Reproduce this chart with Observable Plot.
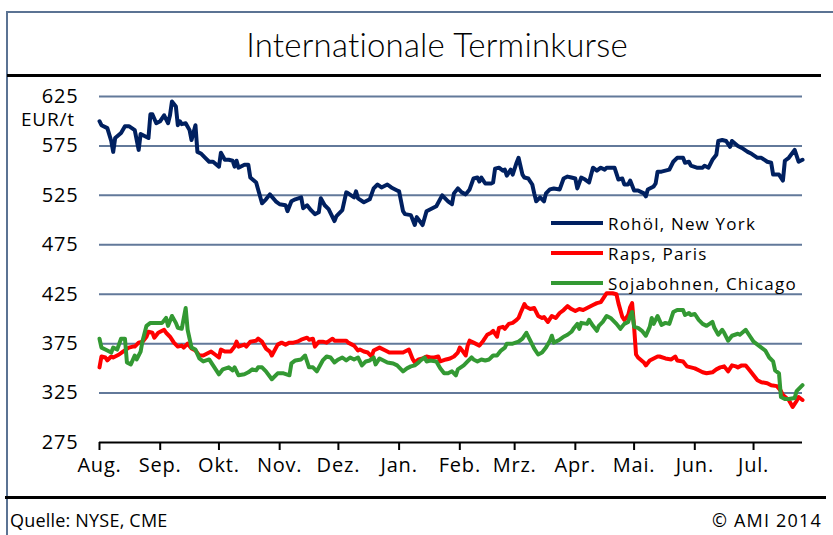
<!DOCTYPE html>
<html><head><meta charset="utf-8">
<script src="https://cdn.jsdelivr.net/npm/d3@7"></script>
<script src="https://cdn.jsdelivr.net/npm/@observablehq/plot@0.6"></script>
<style>
body{margin:0;background:#fff;}
#wrap{position:relative;width:833px;height:535px;overflow:hidden;background:#fff;font-family:"Open Sans",sans-serif;color:#000;}
.abs{position:absolute;}
#title{left:437px;top:24px;transform:translateX(-50%);font-family:"Lato",sans-serif;font-weight:300;font-size:33px;white-space:nowrap;letter-spacing:0.2px;}
#chart{left:0;top:80px;}
.leg{position:absolute;left:551px;height:20px;display:flex;align-items:center;font-size:17px;letter-spacing:1.2px;white-space:nowrap;}
.leg span.k{display:inline-block;width:52px;height:4px;margin-right:5px;}
.foot{font-size:18px;top:508px;font-family:"Open Sans",sans-serif;letter-spacing:0.2px;}
</style></head><body>
<div id="wrap">
  <div class="abs" style="left:6px;top:11px;width:2px;height:524px;background:#5b7393"></div>
  <div class="abs" style="left:6px;top:11px;width:827px;height:2px;background:#5b7393"></div>
  <div id="title" class="abs">Internationale Terminkurse</div>
  <div class="abs" style="left:7px;top:74px;width:814px;height:3px;background:#000"></div>
  <div id="chart" class="abs"></div>
  <div id="unit" class="abs" style="left:21px;top:110px;font-size:19px;line-height:19px;letter-spacing:0.8px;">EUR/t</div>
  <div id="legend"></div>
  <div class="abs" style="left:5px;top:496px;width:821px;height:3px;background:#000"></div>
  <div class="abs foot" style="left:10px;">Quelle: NYSE, CME</div>
  <div class="abs foot" style="right:11px;letter-spacing:1.2px;">© AMI 2014</div>
</div>
<script>
const monthLabels = ["Aug.","Sep.","Okt.","Nov.","Dez.","Jan.","Feb.","Mrz.","Apr.","Mai.","Jun.","Jul."];
const monthStarts = ["2013-08-01","2013-09-01","2013-10-01","2013-11-01","2013-12-01","2014-01-01","2014-02-01","2014-03-01","2014-04-01","2014-05-01","2014-06-01","2014-07-01"];
const xDomain = ["2013-08-01","2014-07-26"];
const yTicks = [275,325,375,425,475,525,575,625];
const seriesNames = ["Rohöl, New York","Raps, Paris","Sojabohnen, Chicago"];

const rohoel = [
["2013-08-01",600],["2013-08-02",596],["2013-08-05",593],["2013-08-07",580],["2013-08-08",569],["2013-08-09",583],["2013-08-12",588],["2013-08-14",595],["2013-08-16",595],["2013-08-19",591],["2013-08-21",571],["2013-08-22",587],["2013-08-24",585],["2013-08-26",583],["2013-08-27",607],["2013-08-28",607],["2013-08-30",598],
["2013-09-01",600],["2013-09-03",606],["2013-09-05",598],["2013-09-06",606],["2013-09-07",620],["2013-09-09",615],["2013-09-10",596],["2013-09-11",600],["2013-09-12",597],["2013-09-14",598],["2013-09-16",591],["2013-09-17",581],["2013-09-19",596],["2013-09-20",569],["2013-09-22",567],["2013-09-24",563],["2013-09-26",559],["2013-09-28",559],
["2013-10-01",554],["2013-10-02",568],["2013-10-04",561],["2013-10-06",561],["2013-10-08",560],["2013-10-09",554],["2013-10-10",560],["2013-10-11",553],["2013-10-14",556],["2013-10-16",556],["2013-10-17",543],["2013-10-20",538],["2013-10-21",531],["2013-10-23",517],["2013-10-25",521],["2013-10-27",526],["2013-10-30",519],
["2013-11-01",516],["2013-11-04",515],["2013-11-05",509],["2013-11-07",519],["2013-11-09",521],["2013-11-12",523],["2013-11-13",512],["2013-11-15",515],["2013-11-17",510],["2013-11-19",506],["2013-11-21",508],["2013-11-22",522],["2013-11-24",515],["2013-11-26",511],["2013-11-27",507],["2013-11-29",499],["2013-11-30",504],
["2013-12-03",510],["2013-12-05",528],["2013-12-06",527],["2013-12-09",523],["2013-12-10",529],["2013-12-11",522],["2013-12-14",518],["2013-12-17",521],["2013-12-19",532],["2013-12-21",536],["2013-12-23",533],["2013-12-26",536],["2013-12-28",533],["2013-12-31",530],
["2014-01-01",529],["2014-01-03",509],["2014-01-04",506],["2014-01-07",505],["2014-01-09",495],["2014-01-10",503],["2014-01-13",495],["2014-01-15",509],["2014-01-17",511],["2014-01-20",514],["2014-01-23",525],["2014-01-26",519],["2014-01-28",516],["2014-01-29",527],["2014-01-31",532],
["2014-02-02",528],["2014-02-04",526],["2014-02-06",531],["2014-02-08",542],["2014-02-10",543],["2014-02-11",539],["2014-02-12",543],["2014-02-14",537],["2014-02-17",537],["2014-02-18",538],["2014-02-19",552],["2014-02-21",553],["2014-02-23",550],["2014-02-24",551],["2014-02-25",545],["2014-02-27",551],["2014-02-28",546],
["2014-03-02",558],["2014-03-03",563],["2014-03-05",546],["2014-03-06",543],["2014-03-08",542],["2014-03-10",536],["2014-03-11",527],["2014-03-12",519],["2014-03-14",523],["2014-03-16",519],["2014-03-17",527],["2014-03-19",531],["2014-03-21",532],["2014-03-24",531],["2014-03-26",542],["2014-03-28",544],["2014-03-30",543],
["2014-04-01",542],["2014-04-02",532],["2014-04-04",543],["2014-04-06",541],["2014-04-08",538],["2014-04-10",553],["2014-04-12",550],["2014-04-14",553],["2014-04-16",551],["2014-04-17",553],["2014-04-20",553],["2014-04-21",553],["2014-04-23",541],["2014-04-25",542],["2014-04-26",536],["2014-04-28",536],["2014-04-29",540],
["2014-05-01",530],["2014-05-03",530],["2014-05-06",527],["2014-05-07",524],["2014-05-08",531],["2014-05-11",534],["2014-05-12",537],["2014-05-13",549],["2014-05-15",549],["2014-05-17",550],["2014-05-19",551],["2014-05-21",559],["2014-05-23",563],["2014-05-26",563],["2014-05-27",558],["2014-05-29",559],["2014-05-30",555],
["2014-06-02",553],["2014-06-05",553],["2014-06-06",555],["2014-06-08",553],["2014-06-10",561],["2014-06-12",566],["2014-06-13",580],["2014-06-15",581],["2014-06-17",580],["2014-06-19",574],["2014-06-20",580],["2014-06-23",575],["2014-06-25",573],["2014-06-28",569],["2014-06-30",567],
["2014-07-03",563],["2014-07-05",563],["2014-07-08",559],["2014-07-10",558],["2014-07-11",546],["2014-07-14",546],["2014-07-16",540],["2014-07-17",560],["2014-07-19",563],["2014-07-22",571],["2014-07-24",559],["2014-07-26",561]
];

const raps = [
["2013-08-01",351],["2013-08-02",362],["2013-08-04",361],["2013-08-05",358],["2013-08-07",362],["2013-08-08",361],["2013-08-11",364],["2013-08-13",367],["2013-08-16",371],["2013-08-18",372],["2013-08-19",372],["2013-08-21",376],["2013-08-23",377],["2013-08-25",382],["2013-08-26",387],["2013-08-28",386],["2013-08-29",381],["2013-08-31",386],
["2013-09-03",389],["2013-09-04",386],["2013-09-06",382],["2013-09-08",376],["2013-09-10",372],["2013-09-12",373],["2013-09-13",371],["2013-09-15",375],["2013-09-17",370],["2013-09-19",368],["2013-09-21",363],["2013-09-23",363],["2013-09-26",366],["2013-09-27",367],["2013-09-29",364],
["2013-10-01",361],["2013-10-02",369],["2013-10-04",367],["2013-10-07",367],["2013-10-09",372],["2013-10-10",377],["2013-10-11",372],["2013-10-14",374],["2013-10-15",372],["2013-10-17",377],["2013-10-20",378],["2013-10-21",380],["2013-10-23",377],["2013-10-25",370],["2013-10-27",367],["2013-10-28",363],["2013-10-31",374],
["2013-11-02",376],["2013-11-04",374],["2013-11-06",376],["2013-11-08",376],["2013-11-10",377],["2013-11-12",379],["2013-11-15",381],["2013-11-16",379],["2013-11-18",380],["2013-11-19",372],["2013-11-21",377],["2013-11-23",377],["2013-11-25",376],["2013-11-28",380],["2013-11-29",378],
["2013-12-01",378],["2013-12-05",378],["2013-12-06",376],["2013-12-09",373],["2013-12-11",368],["2013-12-12",369],["2013-12-14",367],["2013-12-16",366],["2013-12-18",362],["2013-12-19",368],["2013-12-22",371],["2013-12-25",368],["2013-12-27",366],["2013-12-31",366],
["2014-01-03",366],["2014-01-06",369],["2014-01-08",359],["2014-01-09",356],["2014-01-11",359],["2014-01-13",360],["2014-01-15",362],["2014-01-17",361],["2014-01-19",361],["2014-01-21",362],["2014-01-22",357],["2014-01-25",359],["2014-01-27",360],["2014-01-29",362],["2014-01-31",366],
["2014-02-01",371],["2014-02-03",366],["2014-02-04",363],["2014-02-05",373],["2014-02-06",378],["2014-02-08",376],["2014-02-11",373],["2014-02-13",378],["2014-02-15",384],["2014-02-17",386],["2014-02-18",388],["2014-02-20",382],["2014-02-21",391],["2014-02-23",392],["2014-02-24",390],["2014-02-26",395],["2014-02-28",396],
["2014-03-02",399],["2014-03-03",401],["2014-03-04",406],["2014-03-06",415],["2014-03-07",412],["2014-03-09",410],["2014-03-11",411],["2014-03-13",403],["2014-03-15",401],["2014-03-16",402],["2014-03-18",397],["2014-03-20",403],["2014-03-22",401],["2014-03-24",406],["2014-03-26",409],["2014-03-28",413],["2014-03-30",410],
["2014-04-01",408],["2014-04-03",410],["2014-04-05",409],["2014-04-07",411],["2014-04-10",414],["2014-04-12",416],["2014-04-14",417],["2014-04-16",423],["2014-04-17",426],["2014-04-20",426],["2014-04-22",425],["2014-04-23",416],["2014-04-25",402],["2014-04-26",399],["2014-04-27",401],["2014-04-28",404],["2014-04-29",412],["2014-04-30",416],
["2014-05-01",392],["2014-05-02",364],["2014-05-03",361],["2014-05-06",356],["2014-05-07",353],["2014-05-09",358],["2014-05-11",360],["2014-05-13",362],["2014-05-14",362],["2014-05-17",360],["2014-05-20",359],["2014-05-22",362],["2014-05-23",358],["2014-05-26",357],["2014-05-28",352],["2014-05-30",351],
["2014-06-01",350],["2014-06-03",348],["2014-06-05",346],["2014-06-07",345],["2014-06-10",346],["2014-06-12",349],["2014-06-14",351],["2014-06-16",352],["2014-06-18",347],["2014-06-20",353],["2014-06-22",352],["2014-06-23",351],["2014-06-25",353],["2014-06-27",353],["2014-06-29",348],
["2014-07-01",343],["2014-07-03",338],["2014-07-05",336],["2014-07-08",335],["2014-07-10",333],["2014-07-13",332],["2014-07-15",327],["2014-07-16",323],["2014-07-19",318],["2014-07-21",311],["2014-07-23",317],["2014-07-24",321],["2014-07-26",318]
];

const soja = [
["2013-08-01",380],["2013-08-02",371],["2013-08-04",369],["2013-08-07",366],["2013-08-08",371],["2013-08-10",369],["2013-08-12",380],["2013-08-14",380],["2013-08-15",356],["2013-08-17",354],["2013-08-19",363],["2013-08-20",359],["2013-08-22",367],["2013-08-23",378],["2013-08-25",393],["2013-08-27",396],["2013-08-30",396],
["2013-09-02",396],["2013-09-04",401],["2013-09-05",393],["2013-09-07",403],["2013-09-09",396],["2013-09-10",391],["2013-09-12",390],["2013-09-14",411],["2013-09-15",389],["2013-09-17",371],["2013-09-19",369],["2013-09-21",360],["2013-09-23",357],["2013-09-26",359],["2013-09-28",353],
["2013-10-01",344],["2013-10-03",349],["2013-10-06",351],["2013-10-08",348],["2013-10-09",351],["2013-10-11",343],["2013-10-14",344],["2013-10-16",346],["2013-10-18",349],["2013-10-20",348],["2013-10-21",351],["2013-10-23",351],["2013-10-25",347],["2013-10-28",339],["2013-10-31",345],
["2013-11-03",345],["2013-11-06",343],["2013-11-07",355],["2013-11-09",358],["2013-11-12",359],["2013-11-14",363],["2013-11-16",351],["2013-11-18",351],["2013-11-20",347],["2013-11-23",358],["2013-11-25",362],["2013-11-27",361],["2013-11-29",356],
["2013-12-01",359],["2013-12-03",361],["2013-12-05",358],["2013-12-07",361],["2013-12-09",359],["2013-12-11",361],["2013-12-13",353],["2013-12-15",357],["2013-12-17",358],["2013-12-19",361],["2013-12-20",354],["2013-12-22",360],["2013-12-24",358],["2013-12-26",356],["2013-12-29",355],["2013-12-31",353],
["2014-01-03",347],["2014-01-05",350],["2014-01-07",352],["2014-01-09",353],["2014-01-11",356],["2014-01-12",358],["2014-01-14",361],["2014-01-15",357],["2014-01-17",358],["2014-01-20",357],["2014-01-22",350],["2014-01-24",345],["2014-01-26",345],["2014-01-28",347],["2014-01-30",343],["2014-01-31",349],
["2014-02-03",353],["2014-02-05",357],["2014-02-07",361],["2014-02-08",359],["2014-02-10",357],["2014-02-12",359],["2014-02-14",358],["2014-02-16",359],["2014-02-18",363],["2014-02-20",363],["2014-02-22",368],["2014-02-24",371],["2014-02-25",375],["2014-02-28",375],
["2014-03-03",377],["2014-03-05",380],["2014-03-07",386],["2014-03-09",378],["2014-03-11",370],["2014-03-13",364],["2014-03-15",366],["2014-03-17",371],["2014-03-19",378],["2014-03-20",383],["2014-03-21",376],["2014-03-24",379],["2014-03-26",382],["2014-03-28",384],["2014-03-30",387],["2014-03-31",390],
["2014-04-02",395],["2014-04-03",390],["2014-04-04",396],["2014-04-07",395],["2014-04-08",399],["2014-04-10",393],["2014-04-12",388],["2014-04-13",393],["2014-04-15",397],["2014-04-17",403],["2014-04-19",401],["2014-04-21",397],["2014-04-22",395],["2014-04-24",390],["2014-04-26",395],["2014-04-28",397],["2014-04-29",403],["2014-04-30",407],
["2014-05-01",392],["2014-05-03",391],["2014-05-05",388],["2014-05-07",383],["2014-05-09",392],["2014-05-10",401],["2014-05-11",395],["2014-05-13",403],["2014-05-15",394],["2014-05-17",396],["2014-05-19",395],["2014-05-21",407],["2014-05-23",409],["2014-05-26",409],["2014-05-27",404],["2014-05-29",406],["2014-05-30",404],
["2014-06-01",405],["2014-06-03",399],["2014-06-05",395],["2014-06-07",393],["2014-06-10",397],["2014-06-11",391],["2014-06-13",384],["2014-06-15",389],["2014-06-16",386],["2014-06-18",378],["2014-06-20",383],["2014-06-23",385],["2014-06-24",384],["2014-06-27",389],["2014-06-29",383],
["2014-07-01",377],["2014-07-03",374],["2014-07-05",371],["2014-07-07",368],["2014-07-09",361],["2014-07-11",357],["2014-07-12",348],["2014-07-14",345],["2014-07-15",321],["2014-07-17",319],["2014-07-19",319],["2014-07-22",320],["2014-07-23",327],["2014-07-26",333]
];

const colors = ["#002060","#ff0000","#339933"];
const parse = d3.utcParse("%Y-%m-%d");
const toRows = (arr, name) => arr.map(([d, v]) => ({date: parse(d), value: v, series: name}));
const all = [rohoel, raps, soja];
const rows = all.map((a, i) => toRows(a, seriesNames[i]));
const tickDates = monthStarts.map(parse);

const chart = Plot.plot({
  width: 833,
  height: 412,
  marginLeft: 99,
  marginRight: 31,
  marginTop: 16,
  marginBottom: 50,
  style: {fontFamily: '"Open Sans", sans-serif', fontSize: "20px", background: "transparent", color: "#000", letterSpacing: "0.8px"},
  x: {type: "utc", domain: xDomain.map(parse)},
  y: {domain: [275, 625]},
  marks: [
    Plot.gridY(yTicks.filter(t => t > 275), {stroke: "#62799a", strokeOpacity: 1, strokeWidth: 2}),
    Plot.ruleY([275], {stroke: "#000", strokeWidth: 2}),
    Plot.axisY(yTicks, {tickSize: 0, tickPadding: 21, fontSize: 20, label: null}),
    Plot.axisX(tickDates, {tickSize: 8, tickPadding: 7, stroke: "#000", strokeWidth: 2, fontSize: 20, tickFormat: (d, i) => monthLabels[i], label: null}),
    ...rows.map((r, i) => Plot.lineY(r, {x: "date", y: "value", stroke: colors[i], strokeWidth: 4, strokeLinejoin: "round", strokeLinecap: "round"}))
  ]
});
document.getElementById("chart").appendChild(chart);

// legend
const legend = document.getElementById("legend");
const legTops = [213, 243, 273];
seriesNames.forEach((n, i) => {
  const div = document.createElement("div");
  div.className = "leg";
  div.style.top = legTops[i] + "px";
  div.innerHTML = `<span class="k" style="background:${colors[i]}"></span><span>${n}</span>`;
  legend.appendChild(div);
});
</script>
</body></html>
